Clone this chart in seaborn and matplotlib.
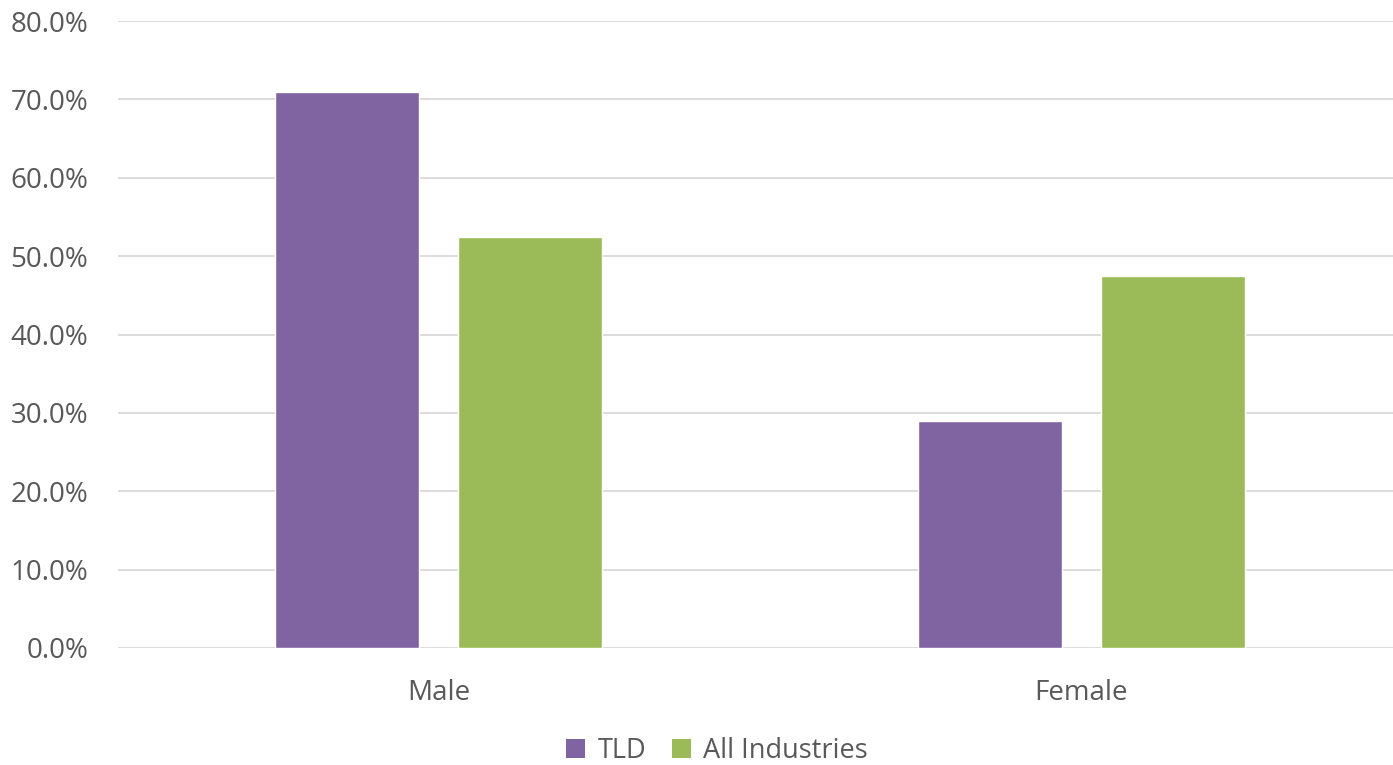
import matplotlib
matplotlib.use("Agg")
import matplotlib.pyplot as plt
import seaborn as sns
import pandas as pd
from matplotlib.ticker import PercentFormatter
from matplotlib.patches import Patch

categories = ["Male", "Female"]
series = ["TLD", "All Industries"]
tld_values = [0.710, 0.290]
all_values = [0.525, 0.475]
colors = {"TLD": "#8064A2", "All Industries": "#9BBB59"}

df = pd.DataFrame({
    "Gender": categories * 2,
    "Series": [series[0]] * 2 + [series[1]] * 2,
    "Value": tld_values + all_values,
})

sns.set_theme(style="white")
plt.rcParams["font.family"] = ["Open Sans", "DejaVu Sans"]
text_color = "#595959"

fig = plt.figure(figsize=(13.93, 7.65), dpi=100)
ax = fig.add_axes([117.5 / 1393, 117 / 765, 1285 / 1393, (744 - 117) / 765])

sns.barplot(data=df, x="Gender", y="Value", hue="Series", order=categories,
            hue_order=series, palette=colors, width=0.571, gap=0.215,
            saturation=1, ax=ax, legend=False)

ax.set_ylim(0, 0.8)
ax.set_xlim(-0.5, 1.5)
ax.set_yticks([i / 10 for i in range(9)])
ax.yaxis.set_major_formatter(PercentFormatter(1.0, decimals=1))
ax.grid(axis="y", color="#D9D9D9", linewidth=1.3)
ax.set_axisbelow(True)
for s in ax.spines.values():
    s.set_visible(False)
ax.tick_params(axis="y", length=0, pad=21, labelsize=20, labelcolor=text_color)
ax.tick_params(axis="x", length=0, pad=22, labelsize=20, labelcolor=text_color)
ax.set_xlabel("")
ax.set_ylabel("")

handles = [Patch(facecolor=colors[s], edgecolor="none", label=s) for s in series]
fig.legend(handles=handles, loc="center", bbox_to_anchor=(717 / 1393, 14 / 765), ncol=2,
           frameon=False, fontsize=19.5, handlelength=0.72, handleheight=0.72,
           handletextpad=0.45, columnspacing=0.95, labelcolor=text_color)

fig.savefig("out.png", dpi=100)
